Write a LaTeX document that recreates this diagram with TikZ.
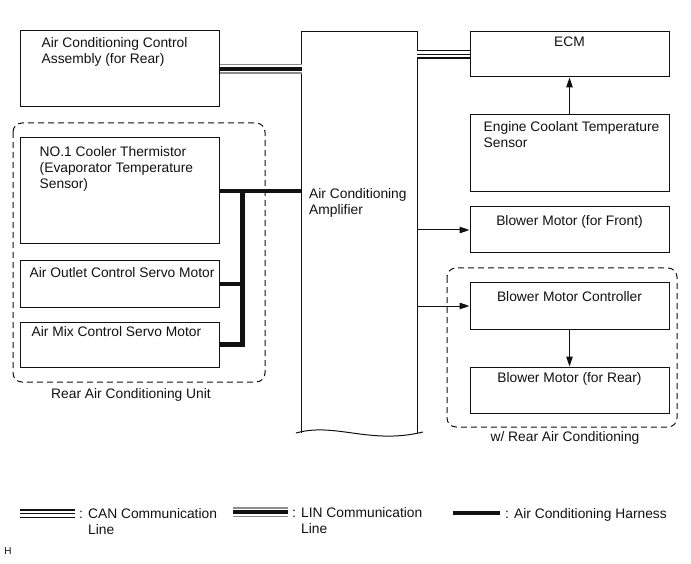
\documentclass[tikz,border=0pt]{standalone}
\usepackage{fontspec}
\setmainfont{Liberation Sans}
\usepackage{tikz}
\usepackage{xcolor}
\usetikzlibrary{arrows.meta,positioning,calc}
\definecolor{ink}{HTML}{111111}
\definecolor{inkgray}{HTML}{8C8C8C}
\newcommand{\boxfont}{\fontsize{13.8}{16}\selectfont}
\tikzset{
  unitbox/.style={draw=ink,line width=1pt,minimum width=199pt,inner sep=0pt},
  boxtext/.style={inner sep=0pt,align=left,font=\boxfont,text=ink},
  groupbox/.style={draw=ink,line width=1pt,dash pattern=on 6pt off 4pt,
                   rounded corners=9pt},
  sigarr/.style={-{Triangle[length=10pt,width=6.5pt]},line width=1pt,color=ink},
  canline/.style={line width=1.8pt,color=ink,
                  preaction={draw,ink,line width=9.5pt},
                  preaction={draw,white,line width=6pt}},
  linline/.style={line width=3.4pt,color=ink,
                  preaction={draw,inkgray,line width=9.5pt},
                  preaction={draw,white,line width=7pt}},
  harness/.style={line width=4.6pt,color=ink,line cap=butt,line join=miter}
}

\begin{document}
\begin{tikzpicture}[x=1pt,y=-1pt]
  \useasboundingbox (0,0) rectangle (691,564);

  % left column
  \node[unitbox,minimum height=76pt] (acca) at (119.5,69) {};
  \node[unitbox,minimum height=106pt] (thermo) at (119.5,191) {};
  \node[unitbox,minimum height=46pt] (outlet) at (119.5,284) {};
  \node[unitbox,minimum height=45pt] (mix) at (119.5,344.5) {};
  \node[boxtext,anchor=north west] (acca-t) at ([shift={(22,7)}]acca.north west)
    {Air Conditioning Control\\Assembly (for Rear)};
  \node[boxtext,anchor=north west] (thermo-t) at ([shift={(20,9)}]thermo.north west)
    {NO.1 Cooler Thermistor\\(Evaporator Temperature\\Sensor)};
  \node[boxtext,anchor=north west] (outlet-t) at ([shift={(10,7)}]outlet.north west)
    {Air Outlet Control Servo Motor};
  \node[boxtext,anchor=north west] (mix-t) at ([shift={(12,5)}]mix.north west)
    {Air Mix Control Servo Motor};
  \draw[groupbox] (13,123) rectangle (265,382);
  \node[boxtext,anchor=north] (rearunit-t) at (131,388) {Rear Air Conditioning Unit};

  % amplifier
  \node[minimum width=115pt,minimum height=401pt,inner sep=0pt] (amp) at (359.5,232.5) {};
  \draw[ink,line width=1pt] (amp.south west) -- (amp.north west)
    -- (amp.north east) -- (amp.south east);
  \draw[ink,line width=1pt] (296,433) .. controls (335,422) and (370,445) .. (423,432);
  \node[boxtext,anchor=north west] (amp-t) at (309,188)
    {Air Conditioning\\Amplifier};

  % right column
  \node[unitbox,minimum height=45pt] (ecm) at (569.5,54.5) {};
  \node[unitbox,minimum height=77pt] (ect) at (569.5,153.5) {};
  \node[unitbox,minimum height=46pt] (bfront) at (569.5,230) {};
  \node[unitbox,minimum height=46pt] (bctrl) at (569.5,306) {};
  \node[unitbox,minimum height=46pt] (brear) at (569.5,390) {};
  \node[boxtext,anchor=north] (ecm-t) at ([yshift=-5pt]ecm.north) {ECM};
  \node[boxtext,anchor=north west] (ect-t) at ([shift={(14,7)}]ect.north west)
    {Engine Coolant Temperature\\Sensor};
  \node[boxtext,anchor=north] (bfront-t) at ([yshift=-9pt]bfront.north) {Blower Motor (for Front)};
  \node[boxtext,anchor=north] (bctrl-t) at ([yshift=-9pt]bctrl.north) {Blower Motor Controller};
  \node[boxtext,anchor=north] (brear-t) at ([yshift=-6pt]brear.north) {Blower Motor (for Rear)};
  \draw[groupbox] (447,268) rectangle (677,427);
  \node[boxtext,anchor=north] (withrear-t) at (565,431) {w/ Rear Air Conditioning};

  % connections
  \draw[linline] (acca.east) -- (acca.east -| amp.west);
  \draw[canline] (amp.east |- ecm.west) -- (ecm.west);
  \coordinate (trunk) at ($(thermo.east)+(23,0)$);
  \draw[harness] (thermo.east) -- (thermo.east -| amp.west);
  \draw[harness] (outlet.east) -- (outlet.east -| trunk);
  \draw[harness] (mix.east) -- (mix.east -| trunk) -- (trunk);
  \draw[sigarr] (ect.north) -- (ecm.south);
  \draw[sigarr] (amp.east |- bfront.west) -- (bfront.west);
  \draw[sigarr] (amp.east |- bctrl.west) -- (bctrl.west);
  \draw[sigarr] (bctrl.south) -- (brear.north);

  % legend
  \draw[canline] (20,513.5) -- (75,513.5);
  \node[boxtext,anchor=north west] (can-t) at (79,508)
    {: CAN Communication\\\phantom{: }Line};
  \draw[linline] (233,512) -- (288,512);
  \node[boxtext,anchor=north west] (lin-t) at (292,507)
    {: LIN Communication\\\phantom{: }Line};
  \draw[harness] (453,513) -- (500,513);
  \node[boxtext,anchor=north west] (harness-t) at (505,508)
    {: Air Conditioning Harness};
  \node[inner sep=0pt,font=\fontsize{10}{12}\selectfont,text=ink] (hmark) at (8,551) {H};
\end{tikzpicture}
\end{document}
